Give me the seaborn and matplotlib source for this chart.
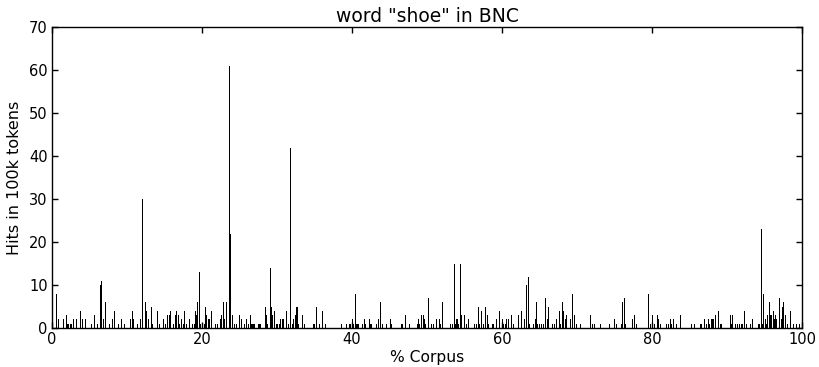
import matplotlib
matplotlib.use("Agg")
import matplotlib.pyplot as plt
import seaborn as sns
import pandas as pd

# % corpus position of each spike and its hits per 100k tokens
pos = [0.05, 0.6, 0.85, 1.5, 1.9, 2.1, 2.25, 2.4, 2.55, 2.8, 3.3, 3.8, 4.1, 4.5, 5.2, 5.7, 6.0,
       6.4, 6.6, 6.9, 7.1, 7.7, 8.0, 8.3, 8.8, 9.3, 9.7, 10.5, 10.7, 10.85, 11.4, 11.8, 12.0,
       12.4, 12.55, 12.8, 13.3, 13.45, 14.0, 14.3, 14.8, 15.1, 15.4, 15.6, 15.8, 16.2, 16.4,
       16.6, 16.8, 17.0, 17.3, 17.5, 17.7, 17.9, 18.3, 18.7, 18.95, 19.1, 19.3, 19.45, 19.65,
       19.8, 20.3, 20.5, 20.65, 20.8, 20.95, 21.2, 21.8, 22.1, 22.4, 22.55, 22.8, 22.95, 23.2,
       23.65, 23.8, 24.0, 24.3, 24.6, 25.0, 25.2, 25.7, 25.9, 26.2, 26.4, 26.6, 26.75, 26.9,
       27.05, 27.5, 27.65, 27.8, 28.4, 28.55, 28.75, 29.1, 29.3, 29.45, 29.6, 29.9, 30.1, 30.3,
       30.5, 30.7, 30.9, 31.2, 31.5, 31.8, 32.0, 32.2, 32.4, 32.6, 32.76, 32.9, 33.4, 33.6,
       34.9, 35.05, 35.2, 35.7, 36.0, 36.4, 38.6, 39.3, 39.6, 39.85, 40.0, 40.15, 40.4, 40.6,
       40.75, 40.9, 41.45, 41.6, 41.75, 42.3, 42.45, 42.6, 43.3, 43.55, 43.8, 44.0, 44.6,
       45.15, 45.3, 46.6, 46.76, 47.1, 47.7, 48.7, 48.9, 49.05, 49.3, 49.5, 49.65, 49.8, 50.2,
       50.6, 50.85, 51.3, 51.6, 51.8, 52.0, 53.1, 53.35, 53.6, 53.76, 53.9, 54.1, 54.25, 54.4,
       54.55, 55.0, 55.3, 55.5, 56.3, 56.55, 56.8, 57.0, 57.2, 57.5, 57.8, 58.0, 58.15, 58.7,
       58.85, 59.2, 59.6, 60.0, 60.15, 60.45, 60.6, 60.9, 61.2, 61.5, 62.2, 62.6, 63.0, 63.2,
       63.5, 63.65, 64.2, 64.4, 64.6, 64.76, 65.0, 65.3, 65.55, 65.8, 66.0, 66.2, 66.7, 67.0,
       67.3, 67.6, 67.85, 68.0, 68.15, 68.4, 68.6, 69.1, 69.4, 69.7, 69.9, 70.4, 71.8, 72.1,
       72.3, 73.1, 74.3, 75.0, 75.3, 75.9, 76.1, 76.3, 76.5, 77.4, 77.7, 77.95, 79.5, 79.76,
       80.0, 80.35, 80.7, 80.85, 81.1, 81.9, 82.2, 82.45, 82.65, 82.9, 83.2, 83.8, 85.3, 85.7,
       86.5, 86.65, 87.0, 87.3, 87.55, 87.7, 87.9, 88.05, 88.2, 88.4, 88.8, 89.1, 89.3, 90.4,
       90.55, 90.7, 91.1, 91.4, 91.7, 91.95, 92.1, 92.3, 92.6, 93.1, 93.4, 94.2, 94.35, 94.6,
       94.76, 94.9, 95.1, 95.3, 95.45, 95.6, 95.76, 95.95, 96.2, 96.35, 96.5, 96.65, 97.0,
       97.2, 97.4, 97.55, 97.8, 98.0, 98.5, 98.8, 99.3, 99.6]
hits = [4, 8, 2, 2, 3, 1, 1, 1, 1, 2, 2, 4, 2, 2, 1, 3, 1,
        10, 11, 2, 6, 1, 2, 4, 1, 2, 1, 2, 4, 2, 1, 2, 30,
        6, 4, 2, 5, 1, 4, 1, 2, 1, 3, 3, 4, 1, 3,
        4, 3, 1, 2, 1, 4, 1, 2, 1, 1, 4, 3, 6, 13,
        1, 1, 5, 3, 2, 2, 4, 1, 1, 2, 3, 6, 2, 6,
        61, 22, 3, 1, 1, 3, 2, 1, 2, 1, 3, 1, 1, 1,
        1, 1, 1, 1, 5, 3, 1, 14, 5, 3, 4, 1, 1, 1,
        2, 2, 2, 4, 1, 42, 1, 2, 3, 5, 5, 1, 3, 1,
        1, 1, 5, 1, 4, 1, 1, 1, 1, 1, 2, 1, 8, 1,
        1, 1, 1, 2, 1, 2, 1, 1, 1, 2, 6, 1, 1,
        2, 1, 1, 1, 3, 1, 1, 2, 1, 3, 3, 2, 1, 7,
        1, 1, 2, 2, 1, 6, 1, 1, 15, 1, 2, 2, 1, 15,
        3, 3, 1, 2, 1, 1, 5, 1, 4, 1, 5, 3, 1, 1,
        1, 2, 4, 2, 1, 1, 2, 2, 3, 1, 3, 4, 2, 10,
        12, 1, 1, 2, 6, 1, 1, 1, 1, 7, 2, 5, 1, 1,
        2, 4, 1, 6, 4, 2, 3, 2, 8, 3, 1, 1, 3, 1,
        1, 1, 1, 2, 1, 1, 6, 7, 1, 2, 3, 1, 8, 1,
        3, 1, 3, 2, 1, 1, 1, 2, 1, 2, 1, 3, 1, 1,
        1, 1, 2, 1, 2, 1, 2, 2, 2, 3, 4, 1, 1, 3,
        1, 3, 1, 1, 1, 1, 1, 4, 1, 1, 2, 1, 1, 23,
        1, 8, 2, 1, 3, 6, 3, 3, 4, 2, 3, 2, 7,
        2, 5, 6, 3, 1, 4, 1, 1, 1]

x_ticks = [0, 20, 40, 60, 80, 100]
y_ticks = [0, 10, 20, 30, 40, 50, 60, 70]

df = pd.DataFrame({"corpus": pos, "hits": hits})

sns.set_theme(style="white", rc={
    "axes.edgecolor": "black",
    "axes.linewidth": 1.0,
    "xtick.direction": "in",
    "ytick.direction": "in",
    "xtick.top": True,
    "ytick.right": True,
    "xtick.bottom": True,
    "ytick.left": True,
    "xtick.major.size": 4,
    "ytick.major.size": 4,
    "xtick.color": "black",
    "ytick.color": "black",
    "text.color": "black",
    "axes.labelcolor": "black",
})
plt.rcParams["font.family"] = ["DejaVu Sans"]

fig = plt.figure(figsize=(8.2, 3.67), dpi=100)
ax = fig.add_axes([0.0634, 0.106, 0.9146, 0.820])

sns.histplot(data=df, x="corpus", weights="hits", binwidth=100 / 750, binrange=(0, 100),
             color="black", alpha=1, linewidth=0, element="bars", fill=True,
             antialiased=False, ax=ax)

ax.set_xlim(0, 100)
ax.set_ylim(0, 70)
ax.set_xticks(x_ticks)
ax.set_yticks(y_ticks)
ax.tick_params(labelsize=10.5, width=1)
ax.tick_params(axis="x", pad=3)
ax.tick_params(axis="y", pad=3)
ax.set_title('word "shoe" in BNC', fontsize=13.5, pad=4)
ax.set_xlabel("% Corpus", fontsize=11.2, labelpad=2)
ax.set_ylabel("Hits in 100k tokens", fontsize=11.5, labelpad=5)
for s in ax.spines.values():
    s.set_visible(True)

fig.savefig("out.png", dpi=100)
